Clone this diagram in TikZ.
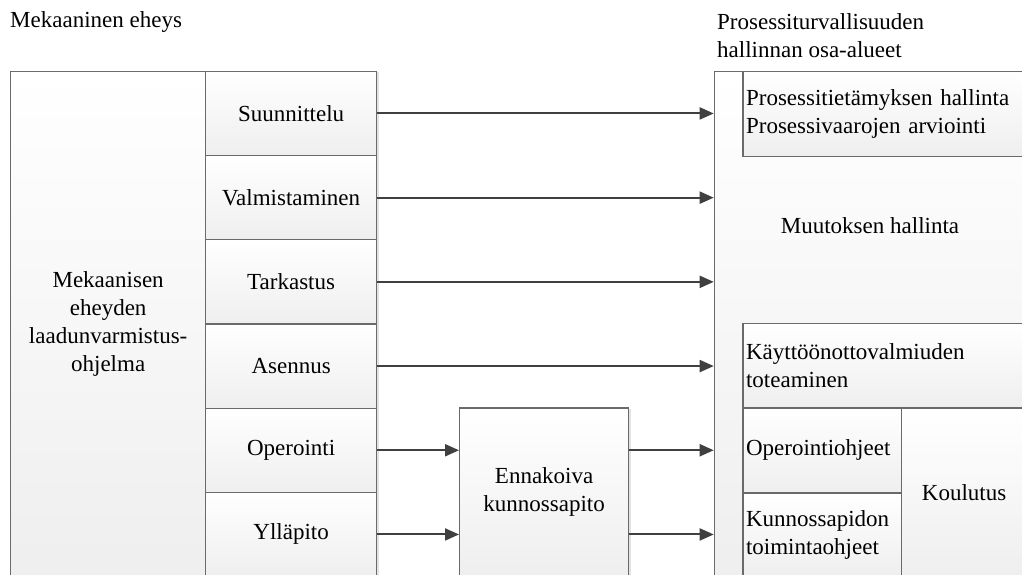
\documentclass[tikz,border=0pt]{standalone}
\usepackage{fontspec}
\setmainfont{Liberation Serif}
\usetikzlibrary{arrows.meta,shadows}
\definecolor{arrcol}{HTML}{404040}
\definecolor{boxline}{HTML}{6A6A6A}
\begin{document}
\begin{tikzpicture}[x=1pt,y=-1pt,
  box/.style={draw=boxline, line width=1.3pt, top color=white, bottom color=gray!13,
    inner sep=3pt, align=center, anchor=north west,
    font=\fontsize{23}{28}\selectfont,
    drop shadow={shadow xshift=2.5pt, shadow yshift=-1pt, opacity=0.22}},
  lbox/.style={box, align=left},
  plain/.style={inner sep=0pt, font=\fontsize{23}{28}\selectfont},
  arr/.style={draw=arrcol, line width=2pt, -{Triangle[length=14pt,width=12pt]}, arrcol}
]
\useasboundingbox (0,0) rectangle (1022,574);
\clip (0,0) rectangle (1022,574);
\fill[white] (0,0) rectangle (1022,574);

% titles
\node[plain, anchor=west] (t1) at (10,21.7) {Mekaaninen eheys};
\node[plain, anchor=west, align=left] (t2) at (717,36) {Prosessiturvallisuuden\\hallinnan osa-alueet};

% left side
\node[box, minimum width=195, minimum height=505.3] (big) at (10,70.7)
  {Mekaanisen\\eheyden\\laadunvarmistus-\\ohjelma};
\node[box, minimum width=171, minimum height=84.2] (s1) at (205,70.7) {Suunnittelu};
\node[box, minimum width=171, minimum height=84.2] (s2) at (205,154.9) {Valmistaminen};
\node[box, minimum width=171, minimum height=84.2] (s3) at (205,239.1) {Tarkastus};
\node[box, minimum width=171, minimum height=84.2] (s4) at (205,323.3) {Asennus};
\node[box, minimum width=171, minimum height=84.2] (s5) at (205,407.5) {Operointi};
\node[box, minimum width=171, minimum height=84.2] (s6) at (205,491.7) {Ylläpito};

% middle
\node[box, minimum width=169, minimum height=168.5] (ek) at (459,407.3) {Ennakoiva\\kunnossapito};

% right side
\node[box, minimum width=312.3, minimum height=505.3] (outer) at (713.7,70.7) {};
\node[plain] (mh) at (870,226) {Muutoksen hallinta};
\node[lbox, text width=277.6, minimum height=85] (pk) at (742.4,70.7)
  {Prosessitietämyksen hallinta\\Prosessivaarojen arviointi};
\node[lbox, text width=277.6, minimum height=84.6] (kv) at (742.4,322.7)
  {Käyttöönottovalmiuden\\toteaminen};
\node[lbox, text width=152.6, minimum height=85] (oo) at (742.4,407.3) {Operointiohjeet};
\node[lbox, text width=152.6, minimum height=84.2] (kt) at (742.4,492.3)
  {Kunnossapidon\\toimintaohjeet};
\node[box, minimum width=125, minimum height=169.2] (ko) at (901,407.3) {Koulutus};

% connectors
\draw[arr] (s1.east) -- (s1.east -| outer.west);
\draw[arr] (s2.east) -- (s2.east -| outer.west);
\draw[arr] (s3.east) -- (s3.east -| outer.west);
\draw[arr] (s4.east) -- (s4.east -| outer.west);
\draw[arr] (s5.east) -- (s5.east -| ek.west);
\draw[arr] (s6.east) -- (s6.east -| ek.west);
\draw[arr] (s5.east -| ek.east) -- (s5.east -| outer.west);
\draw[arr] (s6.east -| ek.east) -- (s6.east -| outer.west);
\end{tikzpicture}
\end{document}
